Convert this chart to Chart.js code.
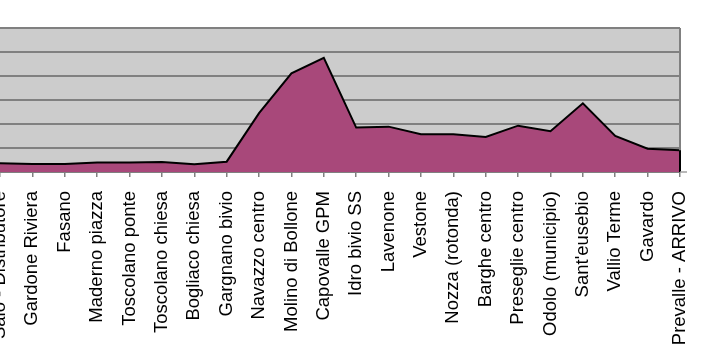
<!DOCTYPE html>
<html><head><meta charset="utf-8">
<script src="https://cdn.jsdelivr.net/npm/chart.js@4"></script>
<style>
html,body{margin:0;padding:0;overflow:hidden;background:#fff;width:704px;height:355px;position:relative}
#c{position:absolute;top:0;left:0}
</style></head>
<body>
<canvas id="c" width="800" height="355"></canvas>
<script>
const categories = ["Salò - Distributore","Gardone Riviera","Fasano","Maderno piazza","Toscolano ponte","Toscolano chiesa","Bogliaco chiesa","Gargnano bivio","Navazzo centro","Molino di Bollone","Capovalle GPM","Idro bivio SS","Lavenone","Vestone","Nozza (rotonda)","Barghe centro","Preseglie centro","Odolo (municipio)","Sant'eusebio","Vallio Terme","Gavardo","Prevalle - ARRIVO"];
const altitudes = [72,67,67,80,80,83,65,86,490,822,952,370,378,314,314,292,386,340,572,300,194,181];
const yMin = 0, yMax = 1200, yStep = 200;

const plotDeco = {
  id:'plotDeco',
  beforeDraw(chart){
    const a = chart.chartArea, c = chart.ctx;
    c.save(); c.fillStyle = '#cccccc';
    c.fillRect(a.left, a.top, a.right - a.left, a.bottom - a.top);
    c.restore();
  },
  afterDatasetsDraw(chart){
    const a = chart.chartArea, c = chart.ctx;
    const pts = chart.getDatasetMeta(0).data;
    c.save();
    c.strokeStyle = '#808080'; c.lineWidth = 2;
    c.beginPath(); c.moveTo(a.right, a.top); c.lineTo(a.right, a.bottom); c.stroke();
    c.strokeStyle = '#000'; c.lineWidth = 2;
    const last = pts[pts.length-1];
    c.beginPath(); c.moveTo(last.x, last.y); c.lineTo(last.x, a.bottom); c.stroke();
    c.strokeStyle = '#a0a0a0'; c.lineWidth = 1.5;
    c.beginPath(); c.moveTo(a.right, a.bottom); c.lineTo(a.right + 7, a.bottom); c.stroke();
    c.restore();
  }
};

const canvas = document.getElementById('c');
const chart = new Chart(canvas.getContext('2d'), {
  type:'line',
  data:{ labels: categories, datasets:[{
    data: altitudes, fill:'origin', backgroundColor:'#a8487a', borderColor:'#000000',
    borderWidth:2, pointRadius:0, tension:0
  }]},
  options:{
    responsive:false, animation:false, devicePixelRatio:1,
    layout:{ padding:{ left:20, right:20, top:28, bottom:0 } },
    plugins:{ legend:{display:false}, tooltip:{enabled:false} },
    scales:{
      x:{ offset:false,
        afterFit(scale){ scale.height = 183; },
        grid:{ drawOnChartArea:false, drawTicks:true, tickLength:5, color:'#808080', lineWidth:1.5 },
        border:{ display:true, color:'#808080', width:2 },
        ticks:{ autoSkip:false, maxRotation:90, minRotation:90, padding:14, color:'#000',
          font:{ family:'"Liberation Sans", Arial, sans-serif', size:18.5 } }
      },
      y:{ min:yMin, max:yMax,
        grid:{ color:'#808080', lineWidth:2, drawTicks:false },
        border:{ display:false },
        ticks:{ display:false, stepSize:yStep }
      }
    }
  },
  plugins:[plotDeco]
});

for (let i = 0; i < 4; i++) {
  const a = chart.chartArea;
  const p = chart.options.layout.padding;
  p.right += (a.right - a.left) - 680;
  p.top += 28 - a.top;
  chart.update('none');
}
canvas.style.left = (-chart.chartArea.left) + 'px';
</script>
</body></html>
